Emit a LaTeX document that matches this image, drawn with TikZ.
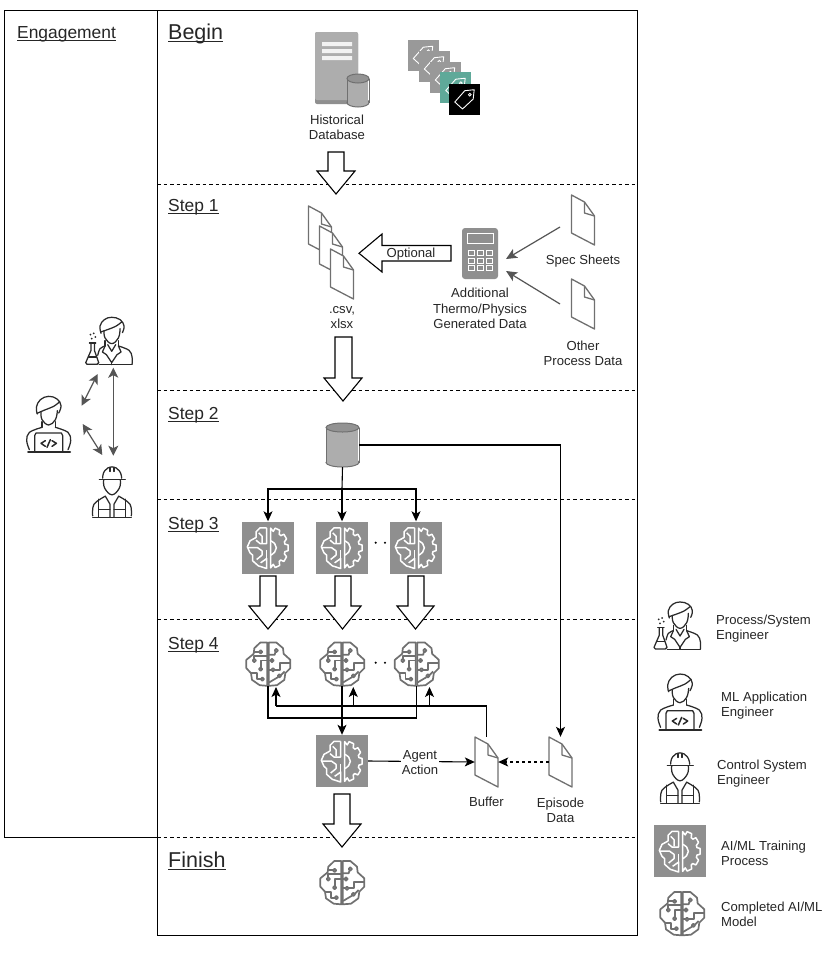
\documentclass[tikz,border=0pt]{standalone}
\usepackage{fontspec}
\setmainfont{Liberation Sans}
\usetikzlibrary{arrows.meta}
\definecolor{txt}{HTML}{262626}
\definecolor{glyph}{HTML}{707070}
\definecolor{boxgray}{HTML}{8F8F8F}
\definecolor{docline}{HTML}{707070}
\definecolor{arrgray}{HTML}{555555}
\definecolor{persona}{HTML}{2A2A2A}
\definecolor{teal}{HTML}{5FA999}
\definecolor{cylbody}{HTML}{ADADAD}
\definecolor{cyltop}{HTML}{939393}
\newcommand{\ulabel}[1]{\setbox0=\hbox{#1}\dp0=0pt \vtop{\box0\kern2pt\hrule height 1pt}}
\newcommand{\blockdown}[6]{% shaftL shaftR headL headR top shoulder ; tip = mean(headL,headR)
  \draw[blockarrow] (#1,#5) -- (#1,#6) -- (#3,#6) -- ({(#3+#4)/2},{#6+23}) -- (#4,#6) -- (#2,#6) -- (#2,#5) -- cycle;}
\newcommand{\cylin}[5]{% cx top bot rx ry
  \draw[docline,line width=1pt,fill=cylbody] (#1,{#3-#5}) ellipse [x radius=#4,y radius=#5];
  \fill[cylbody] ({#1-#4+.6},{#2+#5}) rectangle ({#1+#4-.6},{#3-#5});
  \draw[docline,line width=1pt] ({#1-#4},{#2+#5}) -- ({#1-#4},{#3-#5}) ({#1+#4},{#2+#5}) -- ({#1+#4},{#3-#5});
  \draw[docline,line width=1pt,fill=cyltop] (#1,{#2+#5}) ellipse [x radius=#4,y radius=#5];}
\tikzset{
  x=1pt,y=-1pt,
  frameline/.style={black,line width=1pt},
  sepline/.style={black,line width=1pt,dash pattern=on 3.5pt off 3pt},
  blockarrow/.style={black,line width=1.1pt,fill=white,line join=miter},
  conn/.style={black,line width=1.1pt,-{Stealth[length=10pt,width=9pt,inset=2.5pt]}},
  plainconn/.style={black,line width=1.1pt},
  dashconn/.style={conn,dash pattern=on 3pt off 3pt},
  grayconn/.style={arrgray,line width=1.2pt,-{Stealth[length=11pt,width=10pt,inset=2.5pt]}},
  graydouble/.style={arrgray,line width=1.2pt,{Stealth[length=10pt,width=10pt,inset=2.5pt]}-{Stealth[length=10pt,width=10pt,inset=2.5pt]}},
  lbl/.style={text=txt,align=center,inner sep=0pt,font=\fontsize{13.1}{15.2}\selectfont},
  legendlbl/.style={lbl,align=left,anchor=west},
  heading/.style={text=txt,inner sep=0pt,anchor=base west,font=\fontsize{17.4}{20}\selectfont},
  bigheading/.style={text=txt,inner sep=0pt,anchor=base west,font=\fontsize{21.5}{24}\selectfont},
  trainbox/.style={fill=boxgray,draw=none,minimum width=52pt,minimum height=52pt,inner sep=0pt},
  anchorbox/.style={minimum width=#1,inner sep=0pt,draw=none},
  docnode/.style={minimum width=23pt,minimum height=50pt,inner sep=0pt},
  docicon/.pic={
    \draw[docline,line width=1.3pt,fill=white,line join=round] (-11.5,-25) -- (1.5,-18) -- (11.5,-4) -- (11.5,25) -- (-11.5,13) -- cycle;
    \draw[docline,line width=1.3pt,line join=round] (1.5,-18) -- (1.5,-7) -- (11.5,-4);
  },
  brainicon/.pic={
    \begin{scope}[scale=1/3,shift={(-113,-491)},glyph,line width=1.7pt,line join=round]
      \draw (111,428) -- (90,428) -- (72,445) -- (70,462) -- (48,480) -- (48,505) -- (62,520) -- (65,540) -- (88,556) -- (111,558) -- cycle;
      \draw (115,428) -- (138,428) -- (158,445) -- (160,462) -- (180,480) -- (180,505) -- (165,520) -- (162,540) -- (140,556) -- (115,558) -- cycle;
      \draw (86,456) -- (72,456);
      \draw (91,456) circle [radius=5];
      \draw (72,477) -- (72,468) -- (110,468);
      \draw (72,482) circle [radius=5];
      \draw (91,503) -- (91,482) -- (110,482);
      \draw (91,508) circle [radius=5];
      \draw (62,520) -- (80,520) -- (80,538) -- (91,538);
      \draw (96,538) circle [radius=5];
      \draw (116,465) -- (133,465) -- (135,457);
      \draw (138,452) circle [radius=5];
      \draw (120,482) -- (116,482);
      \draw (125,482) circle [radius=5];
      \draw (116,510) -- (123,510);
      \draw (128,510) circle [radius=5];
      \draw (133,510) -- (148,510) -- (148,490) -- (180,490);
      \draw (116,548) -- (143,532);
      \draw (147,528) circle [radius=5];
      \draw (163,515) -- (150,528);
    \end{scope}
  },
  traingears/.pic={
    \begin{scope}[scale=1/3,shift={(-114,-142)},white,line width=1.5pt,line join=round]
      \draw (110,83) -- (90,83) -- (78,95) -- (78,112) -- (60,122) -- (52,140) -- (60,158) -- (68,165) -- (68,182) -- (85,197) -- (110,205) -- (110,175) -- (92,188);
      \draw (110,83) -- (110,130) -- (90,130) -- (78,120);
      \draw (52,142) -- (82,142) -- (96,152) -- (96,165) -- (80,178);
      \draw (110,150) -- (110,175);
      \draw (86,98) -- (96,108) -- (96,128);
      \draw (122,84)
        \foreach \a in {-68,-34,0,34,68} {
          -- ({123+43*cos(\a-13)},{143+50*sin(\a-13)})
          -- ({123+52*cos(\a-8)},{143+61*sin(\a-8)})
          -- ({123+52*cos(\a+8)},{143+61*sin(\a+8)})
          -- ({123+43*cos(\a+13)},{143+50*sin(\a+13)})
        } -- (122,203) -- cycle;
      \draw plot[smooth,tension=.8] coordinates {(122,122) (134,130) (139,143) (134,156) (122,165)};
    \end{scope}
  },
  tagglyph/.pic={
    \draw[white,line width=.9pt,line join=round] (9.7,-9.3) -- (.3,-8.3) -- (-9.7,3) -- (-2,10) -- (8.7,0) -- cycle;
    \draw[white,line width=.8pt] (5.3,-4.3) circle [radius=1.4];
  },
  scientist/.pic={
    \begin{scope}[scale=1/3,shift={(-110,-108)},persona,line width=1.25pt,line join=round,line cap=round]
      \draw plot[smooth,tension=.7] coordinates {(88,84) (85,62) (98,43) (120,36) (145,43) (157,62) (152,82)};
      \draw plot[smooth,tension=.6] coordinates {(87,80) (110,72) (132,63) (150,50)};
      \draw plot[smooth,tension=.7] coordinates {(97,76) (100,98) (120,115) (140,98) (145,70)};
      \draw (100,106) -- (100,122) (140,106) -- (140,122);
      \draw plot[smooth,tension=.6] coordinates {(100,122) (85,130) (78,150)};
      \draw plot[smooth,tension=.6] coordinates {(140,122) (172,135) (181,155) (181,177)};
      \draw (100,122) -- (92,140) -- (104,148) -- (120,172) -- (136,148) -- (148,140) -- (140,122);
      \draw (120,172) -- (120,178);
      \draw (82,178) -- (181,178);
      \draw (108,118) -- (120,138) -- (132,118);
      \draw (53,113) -- (72,113);
      \draw (58,113) -- (58,135) -- (42,172) -- (46,177) -- (76,177) -- (81,172) -- (68,135) -- (68,113);
      \draw (50,155) -- (74,155);
      \fill (60,100) circle [radius=3] (71,95) circle [radius=3] (56,88) circle [radius=3] (66,84) circle [radius=3];
    \end{scope}
  },
  developer/.pic={
    \begin{scope}[scale=1/3,shift={(-120,-338)},persona,line width=1.25pt,line join=round,line cap=round]
      \draw plot[smooth,tension=.7] coordinates {(86,305) (83,285) (95,262) (120,252) (145,260) (157,280) (150,302)};
      \draw plot[smooth,tension=.6] coordinates {(85,303) (108,293) (135,282) (153,268)};
      \draw plot[smooth,tension=.7] coordinates {(97,300) (100,322) (120,338) (140,322) (146,295)};
      \draw (100,328) -- (100,345) (140,328) -- (140,345);
      \draw plot[smooth,tension=.6] coordinates {(62,412) (54,385) (62,360) (100,345)};
      \draw plot[smooth,tension=.6] coordinates {(178,412) (186,385) (178,360) (140,345)};
      \draw (78,416) -- (78,370) -- (82,362) -- (158,362) -- (162,370) -- (162,416);
      \draw[line width=2pt] (58,420) -- (184,420);
      \draw[line width=1.5pt] (110,385) -- (97,393) -- (110,402) (130,385) -- (143,393) -- (130,402) (115,405) -- (125,382);
    \end{scope}
  },
  hardhat/.pic={
    \begin{scope}[scale=1/3,shift={(-90,-322)},persona,line width=1.25pt,line join=round,line cap=round]
      \draw plot[smooth,tension=.8] coordinates {(62,282) (68,260) (90,248) (112,260) (119,282)};
      \draw (52,285) -- (130,285);
      \draw (84,249) -- (84,262) (96,249) -- (96,262);
      \draw plot[smooth,tension=.7] coordinates {(65,288) (68,312) (90,332) (112,312) (115,288)};
      \draw plot[smooth,tension=.6] coordinates {(32,395) (36,360) (70,336)};
      \draw plot[smooth,tension=.6] coordinates {(148,395) (144,360) (110,336)};
      \draw (50,345) -- (50,398) (130,345) -- (130,398);
      \draw (70,336) -- (84,360) -- (84,398) (110,336) -- (96,360) -- (96,398);
      \draw (50,375) -- (84,375) (96,375) -- (130,375);
      \draw (32,399) -- (148,399);
    \end{scope}
  },
}
\begin{document}
\begin{tikzpicture}
\useasboundingbox (0,0) rectangle (840,962);
\fill[white] (0,0) rectangle (840,962);

% frames and section lines
\draw[frameline] (157,10) rectangle (637,935);
\draw[frameline] (157,10) -- (4,10) -- (4,837) -- (157,837);
\foreach \yy in {184,390,499,619,837} { \draw[sepline] (157,\yy) -- (637,\yy); }

% headings
\node[heading] (hEng) at (17,38) {\ulabel{Engagement}};
\node[bigheading] (hBegin) at (168,39) {\ulabel{Begin}};
\node[heading] (h1) at (168,211) {\ulabel{Step 1}};
\node[heading] (h2) at (168,419) {\ulabel{Step 2}};
\node[heading] (h3) at (168,529) {\ulabel{Step 3}};
\node[heading] (h4) at (168,649) {\ulabel{Step 4}};
\node[bigheading] (hFin) at (168,867) {\ulabel{Finish}};

% begin: server
\node[anchorbox=44pt,minimum height=75pt] (srv) at (337,68) {};
\fill[boxgray,rounded corners=2pt] (315,32) rectangle (358,104);
\fill[cylbody,rounded corners=2pt] (315,32) rectangle (358,100);
\fill[white!95!black] (322,42) rectangle (352,46) (322,49) rectangle (352,53) (322,56) rectangle (352,60);
\cylin{358}{74}{107}{11}{4.5}
\node[lbl] (srvl) at (337,127) {Historical\\Database};

% tags
\node[fill=black!40,minimum size=31pt,inner sep=0pt] (tag1) at (423,55.5) {};
\pic at (tag1) {tagglyph};
\node[fill=black!40,minimum size=31pt,inner sep=0pt] (tag2) at (434,66) {};
\pic at (tag2) {tagglyph};
\node[fill=black!40,minimum size=31pt,inner sep=0pt] (tag3) at (445,77) {};
\pic at (tag3) {tagglyph};
\node[fill=teal,minimum size=31pt,inner sep=0pt] (tag4) at (455.5,87.5) {};
\pic at (tag4) {tagglyph};
\node[fill=black,minimum size=31pt,inner sep=0pt] (tag5) at (464.5,99) {};
\pic at (tag5) {tagglyph};

\blockdown{328}{344}{317}{355}{152}{171}

% step 1
\node[docnode] (csv1) at (320,231) {};
\pic at (csv1) {docicon};
\node[docnode] (csv2) at (331,251) {};
\pic at (csv2) {docicon};
\node[docnode] (csv3) at (342,274) {};
\pic at (csv3) {docicon};
\node[lbl] (csvl) at (342,317.5) {.csv,\\xlsx};
\draw[blockarrow] (451,245.5) -- (382,245.5) -- (382,234) -- (359,253.3) -- (382,272) -- (382,261) -- (451,261) -- cycle;
\node[lbl] (opt) at (411,254.5) {Optional};

\node[minimum width=36pt,minimum height=51pt,inner sep=0pt,fill=boxgray,rounded corners=3pt] (calc) at (480,253.5) {};
\draw[white,line width=1pt] (467,233.5) rectangle (493,243);
\foreach \cx in {471,480.5,489.5} \foreach \cy in {253,260.5,268} {
  \draw[white,line width=.9pt] ({\cx-3},{\cy-2.5}) rectangle ({\cx+3},{\cy+2.5});
}
\node[lbl] (calcl) at (480,308.5) {Additional\\Thermo/Physics\\Generated Data};

\node[docnode] (spec) at (583,220) {};
\pic at (spec) {docicon};
\node[lbl] (specl) at (583,261) {Spec Sheets};
\node[docnode] (other) at (583,304) {};
\pic at (other) {docicon};
\node[lbl] (otherl) at (583,353.5) {Other\\Process Data};
\coordinate (calcA) at (506,259);
\coordinate (calcB) at (506,271);
\coordinate (specS) at (560,227);
\coordinate (otherS) at (560,304);
\draw[grayconn] (specS) -- (calcA);
\draw[grayconn] (otherS) -- (calcB);

\blockdown{335}{352}{324}{362}{337}{378}

% step 2
\node[minimum width=33pt,minimum height=44pt,inner sep=0pt] (db) at (342.5,445) {};
\cylin{342.5}{423}{467}{16.5}{4.5}

% step 3
\node[trainbox] (t1) at (268,547.5) {};
\pic at (t1) {traingears};
\node[trainbox] (t2) at (342,547.5) {};
\pic at (t2) {traingears};
\node[trainbox] (t3) at (416,547.5) {};
\pic at (t3) {traingears};
\coordinate (split) at (342,489);
\draw[plainconn] (db.south) -- (split);
\draw[conn] (split) -- (t2.north);
\draw[conn] (split) -| (t1.north);
\draw[conn] (split) -| (t3.north);
\fill (375.7,542.7) circle [radius=1.2] (385,542.7) circle [radius=1.2];

\blockdown{260}{276}{249}{287}{576}{606}
\blockdown{335}{351}{324}{361}{576}{606}
\blockdown{408}{424}{397}{434}{576}{606}

% step 4 models
\node[minimum size=45pt,inner sep=0pt] (m1) at (268,663.5) {};
\pic at (m1) {brainicon};
\node[minimum size=45pt,inner sep=0pt] (m2) at (342,663.5) {};
\pic at (m2) {brainicon};
\node[minimum size=45pt,inner sep=0pt] (m3) at (416.5,663.5) {};
\pic at (m3) {brainicon};
\fill (375.7,662.7) circle [radius=1.2] (385,662.7) circle [radius=1.2];

\node[trainbox] (agent) at (342,761) {};
\pic at (agent) {traingears};
\node[docnode] (buf) at (486.5,762) {};
\pic at (buf) {docicon};
\node[lbl] (bufl) at (486.5,802) {Buffer};
\node[docnode] (epi) at (560.5,762) {};
\pic at (epi) {docicon};
\node[lbl] (epil) at (560.5,810.5) {Episode\\Data};

% model/feedback wiring
\coordinate (collect) at (342,718);
\draw[plainconn] (m1.south) |- (collect);
\draw[plainconn] (m3.south) |- (collect);
\draw[conn] (m2.south) -- (agent.north);
\coordinate (fbA) at (276,687);
\coordinate (fbB) at (353.3,687);
\coordinate (fbC) at (429.5,687);
\coordinate (fbBus) at (276,706);
\draw[plainconn] (buf.north) |- (fbBus);
\draw[conn] (fbBus) -- (fbA);
\draw[conn] (fbB |- fbBus) -- (fbB);
\draw[conn] (fbC |- fbBus) -- (fbC);
\draw[conn] (db.east) -| (epi.north);
\draw[conn] (agent.east) -- (buf.west);
\node[lbl,fill=white,inner xsep=1pt] (act) at (420,762.5) {Agent\\Action};
\draw[dashconn] (epi.west) -- (buf.east);

\blockdown{334}{350}{323}{361}{794}{824}

% finish
\node[minimum size=45pt,inner sep=0pt] (mf) at (342,882) {};
\pic at (mf) {brainicon};

% engagement
\pic at (108.4,341.3) {scientist};
\pic at (48.7,425) {developer};
\pic at (112,491.5) {hardhat};
\coordinate (a1) at (97.7,374);
\coordinate (a2) at (81.7,405.7);
\coordinate (b1) at (82.7,424);
\coordinate (b2) at (102.3,455);
\coordinate (c1) at (113.3,367.7);
\coordinate (c2) at (113.3,455.7);
\draw[graydouble] (a1) -- (a2);
\draw[graydouble] (b1) -- (b2);
\draw[graydouble] (c1) -- (c2);

% legend
\pic at (676.7,626) {scientist};
\node[legendlbl] (l1) at (716,628.5) {Process/System\\Engineer};
\pic at (680,702.7) {developer};
\node[legendlbl] (l2) at (721,705.5) {ML Application\\Engineer};
\pic at (680,777.5) {hardhat};
\node[legendlbl] (l3) at (717,773.5) {Control System\\Engineer};
\node[trainbox] (l4box) at (680,851) {};
\pic at (l4box) {traingears};
\node[legendlbl] (l4) at (721,853) {AI/ML Training\\Process};
\node[minimum size=45pt,inner sep=0pt] (l5box) at (682,913) {};
\pic at (l5box) {brainicon};
\node[legendlbl] (l5) at (721,914) {Completed AI/ML\\Model};
\end{tikzpicture}
\end{document}
